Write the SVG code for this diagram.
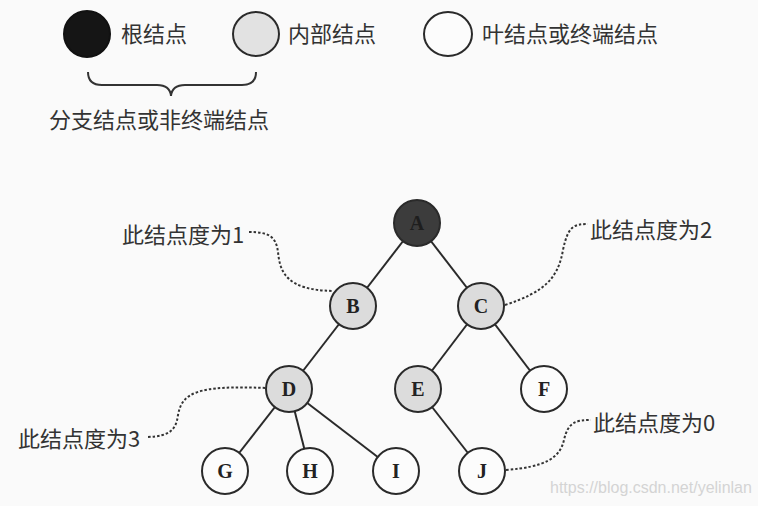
<svg xmlns="http://www.w3.org/2000/svg" width="758" height="506" viewBox="0 0 758 506">
<style>
.bg{fill:#fafafa}
.nd{stroke:#2a2a2a;stroke-width:2}
.root{fill:#3c3c3c}
.inner{fill:#dcdcdc}
.leaf{fill:#fcfcfc}
.lt{font-family:"Times New Roman","Liberation Serif",serif;font-weight:bold;font-size:20px;fill:#222;text-anchor:middle}
.cn{font-family:"Noto Sans CJK SC","Noto Sans",sans-serif;font-size:22px;fill:#333}
.edge{stroke:#2a2a2a;stroke-width:2;fill:none}
.dot{stroke:#333;stroke-width:2;stroke-dasharray:2.5 2;fill:none}
</style>
<rect class="bg" x="0" y="0" width="758" height="506"/>
<g id="legend">
<ellipse cx="87" cy="34" rx="23" ry="23" fill="#151515" stroke="#111" stroke-width="2"/>
<text class="cn" x="121" y="42">根结点</text>
<ellipse cx="256" cy="34" rx="23" ry="22" fill="#e2e2e2" stroke="#2a2a2a" stroke-width="2"/>
<text class="cn" x="288" y="42">内部结点</text>
<ellipse cx="448" cy="34" rx="24" ry="22" fill="#fcfcfc" stroke="#2a2a2a" stroke-width="2"/>
<text class="cn" x="482" y="42">叶结点或终端结点</text>
<path d="M88,72 Q88,85 102,85 L157,85 Q170,85 171,96 Q172,85 185,85 L242,85 Q256,85 256,72" fill="none" stroke="#333" stroke-width="2"/>
<text class="cn" x="49" y="128">分支结点或非终端结点</text>
</g>
<g id="connectors">
<line class="edge" x1="417" y1="223" x2="353" y2="306"/>
<line class="edge" x1="417" y1="223" x2="481" y2="306"/>
<line class="edge" x1="353" y1="306" x2="289" y2="389"/>
<line class="edge" x1="481" y1="306" x2="418" y2="389"/>
<line class="edge" x1="481" y1="306" x2="544" y2="389"/>
<line class="edge" x1="289" y1="389" x2="225" y2="471"/>
<line class="edge" x1="289" y1="389" x2="310" y2="471"/>
<line class="edge" x1="289" y1="389" x2="396" y2="471"/>
<line class="edge" x1="418" y1="389" x2="482" y2="471"/>
<path class="dot" d="M249,232 C268,232 276,236 278,252 C280,272 286,290 333,291"/>
<path class="dot" d="M505,305 C545,292 558,278 563,250 C568,226 574,224 588,224"/>
<path class="dot" d="M148,437 C170,436 176,430 178,415 C182,393 196,385 266,388"/>
<path class="dot" d="M506,470 C545,467 560,458 564,440 C568,422 576,420 591,420"/>
</g>
<g id="node-A"><circle class="nd root" cx="417" cy="223" r="23"/><text class="lt" x="417" y="230" fill="#1a1a1a" style="fill:#1e1e1e">A</text></g>
<g id="node-B"><circle class="nd inner" cx="353" cy="306" r="23"/><text class="lt" x="353" y="313">B</text></g>
<g id="node-C"><circle class="nd inner" cx="481" cy="306" r="23"/><text class="lt" x="481" y="313">C</text></g>
<g id="node-D"><circle class="nd inner" cx="289" cy="389" r="23"/><text class="lt" x="289" y="396">D</text></g>
<g id="node-E"><circle class="nd inner" cx="418" cy="389" r="23"/><text class="lt" x="418" y="396">E</text></g>
<g id="node-F"><circle class="nd leaf" cx="544" cy="389" r="23"/><text class="lt" x="544" y="396">F</text></g>
<g id="node-G"><circle class="nd leaf" cx="225" cy="471" r="23"/><text class="lt" x="225" y="478">G</text></g>
<g id="node-H"><circle class="nd leaf" cx="310" cy="471" r="23"/><text class="lt" x="310" y="478">H</text></g>
<g id="node-I"><circle class="nd leaf" cx="396" cy="471" r="23"/><text class="lt" x="396" y="478">I</text></g>
<g id="node-J"><circle class="nd leaf" cx="482" cy="471" r="23"/><text class="lt" x="482" y="478">J</text></g>
<g id="labels">
<text class="cn" x="122" y="243">此结点度为1</text>
<text class="cn" x="590" y="238">此结点度为2</text>
<text class="cn" x="18" y="447">此结点度为3</text>
<text class="cn" x="593" y="431">此结点度为0</text>
<text x="550" y="493" font-family="Liberation Sans, Arial, sans-serif" font-size="16" fill="#d4d4d4">https://blog.csdn.net/yelinlan</text>
</g>
</svg>
